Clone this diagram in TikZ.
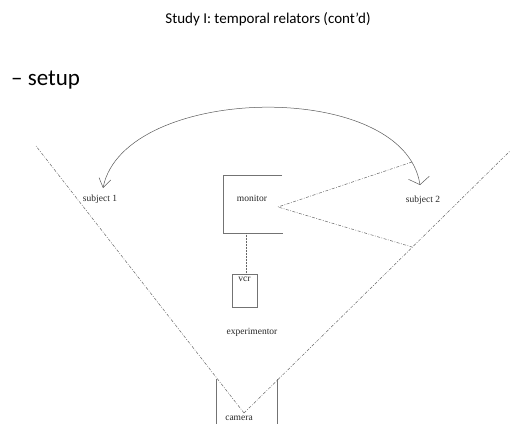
\documentclass[tikz,border=0pt]{standalone}
\usepackage{fontspec}
\setmainfont{Carlito}
\newfontfamily\labelfont{Liberation Serif}
\usetikzlibrary{arrows.meta,positioning}

\begin{document}
\begin{tikzpicture}[x=1pt, y=-1pt,
		lbl/.style={font=\labelfont\fontsize{9.5}{11}\selectfont, text=black!85, inner sep=0pt},
		sight/.style={gray!80!black, line width=0.5pt, dash pattern=on 3pt off 1.5pt on 0.8pt off 1.5pt},
		frame/.style={gray!90!black, line width=0.7pt}]
		\useasboundingbox (0,0) rectangle (510,423);

		% Headings
		\node[font=\fontsize{15}{18}\selectfont] (title) at (268,19) {Study I: temporal relators (cont’d)};
		\node[font=\fontsize{23}{26}\selectfont, anchor=west, inner sep=0pt] (setup) at (11,80) {– setup};

		% Camera and its field of view
		\coordinate (apex) at (244,413);
		\coordinate (viewL) at (36,146);
		\coordinate (viewR) at (512,149);
		\draw[sight] (apex) -- (viewL);
		\draw[sight] (apex) -- (viewR);
		\draw[frame] (216,379) -- (216,425);
		\draw[frame] (277,379) -- (277,425);
		\node[lbl] (camera) at (239,418) {camera};

		% Subjects
		\node[lbl] (subj1) at (100,199) {subject 1};
		\node[lbl] (subj2) at (423,200) {subject 2};
		\coordinate (tip1) at (103,188);
		\coordinate (tip2) at (420,185);
		\draw[gray!70!black, line width=0.5pt, {Straight Barb[length=9pt,width=12pt]}-{Straight Barb[length=7pt,width=21pt]}]
			(tip1) .. controls (124,84) and (404,78) .. (tip2);

		% Monitor
		\draw[frame] (282,175) -- (223,175) -- (223,233) -- (283,233);
		\node[lbl] (monitor) at (252,198) {monitor};
		\coordinate (screen) at (278,207);
		\coordinate (gazeU) at (412,162);
		\coordinate (gazeL) at (412,247);
		\draw[sight] (gazeU) -- (screen) -- (gazeL);

		% VCR and experimentor
		\node[frame, draw, minimum width=25pt, minimum height=33pt, inner sep=0pt] (vcr) at (244.5,290.5) {};
		\node[lbl, below=3pt of vcr.north] (vcrtext) {vcr};
		\draw[gray!80!black, line width=0.5pt, densely dotted] (246,233) -- (vcr.north -| 246,0);
		\node[lbl] (exper) at (252,332) {experimentor};
	\end{tikzpicture}
\end{document}
